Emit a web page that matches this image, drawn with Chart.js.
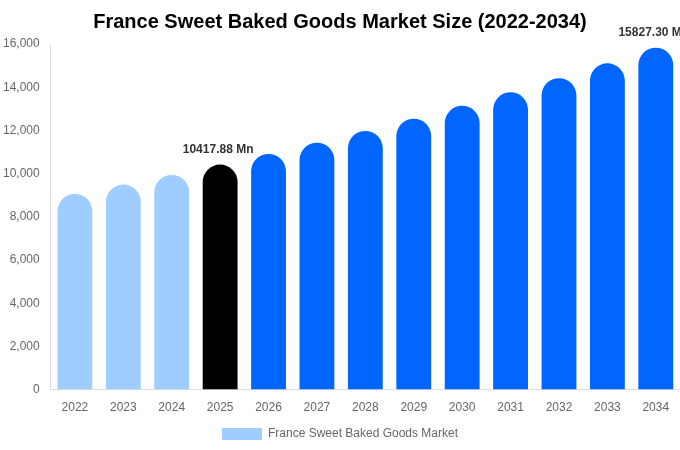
<!DOCTYPE html>
<html>
<head>
<meta charset="utf-8">
<script src="https://cdn.jsdelivr.net/npm/chart.js@4.4.1/dist/chart.umd.min.js"></script>
<style>
  html, body { margin: 0; padding: 0; background: #fff; }
  #wrap { width: 680px; height: 450px; }
</style>
</head>
<body>
<div id="wrap"><canvas id="marketChart"></canvas></div>
<script>
const years = ['2022', '2023', '2024', '2025', '2026', '2027', '2028', '2029', '2030', '2031', '2032', '2033', '2034'];
const marketSize = [9060, 9490, 9940, 10417.88, 10910, 11430, 11975, 12545, 13140, 13765, 14420, 15105, 15827.30];
const barColors = ['#A0CDFF', '#A0CDFF', '#A0CDFF', '#000000', '#0066FF', '#0066FF', '#0066FF', '#0066FF', '#0066FF', '#0066FF', '#0066FF', '#0066FF', '#0066FF'];
const labelledYears = ['2025', '2034'];

Chart.defaults.font.family = "'Liberation Sans', Arial, sans-serif";

// value labels above the highlighted bars
const valueLabels = {
    id: 'valueLabels',
    afterDatasetsDraw(chart) {
        const ctx = chart.ctx;
        const meta = chart.getDatasetMeta(0);
        ctx.save();
        ctx.font = "bold 12px 'Liberation Sans', Arial, sans-serif";
        ctx.fillStyle = '#333';
        ctx.textAlign = 'center';
        ctx.textBaseline = 'bottom';
        meta.data.forEach(function (bar, i) {
            if (labelledYears.includes(years[i])) {
                ctx.fillText(marketSize[i].toFixed(2) + ' Mn', bar.x - 2, bar.y - 9);
            }
        });
        ctx.restore();
    }
};

new Chart(document.getElementById('marketChart').getContext('2d'), {
    type: 'bar',
    data: {
        labels: years,
        datasets: [{
            label: 'France Sweet Baked Goods Market',
            data: marketSize,
            backgroundColor: barColors,
            borderRadius: 20,
            borderSkipped: 'bottom',
            categoryPercentage: 0.8,
            barPercentage: 0.9
        }]
    },
    options: {
        responsive: true,
        maintainAspectRatio: false,
        animation: false,
        layout: { padding: 0 },
        plugins: {
            title: {
                display: true,
                text: 'France Sweet Baked Goods Market Size (2022-2034)',
                color: '#000',
                font: { size: 20, weight: 'bold' },
                padding: { top: 10, bottom: 10 }
            },
            legend: {
                position: 'bottom',
                labels: { boxWidth: 40, boxHeight: 12, color: '#666', font: { size: 12 } }
            },
            tooltip: { enabled: false }
        },
        scales: {
            x: {
                grid: { display: false },
                border: { display: true, color: '#ddd' },
                ticks: { color: '#666', font: { size: 12 } }
            },
            y: {
                min: 0,
                max: 16000,
                grid: { display: false },
                border: { display: true, color: '#ddd' },
                ticks: { stepSize: 2000, color: '#666', font: { size: 12 } }
            }
        }
    },
    plugins: [valueLabels]
});
</script>
</body>
</html>
